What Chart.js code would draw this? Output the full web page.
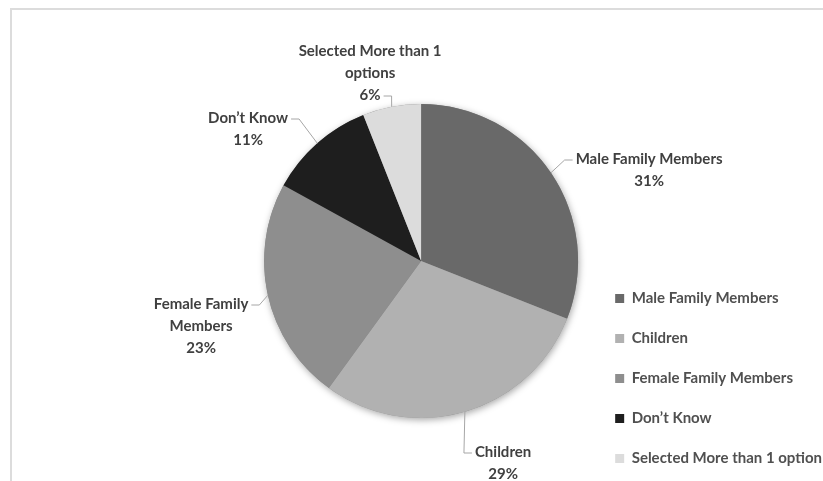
<!DOCTYPE html>
<html>
<head>
<meta charset="utf-8">
<script src="https://cdn.jsdelivr.net/npm/chart.js@4.4.1/dist/chart.umd.min.js"></script>
<style>
  html, body { margin: 0; padding: 0; background: #fff; }
  #wrap { position: relative; width: 823px; height: 481px; overflow: hidden; }
  #frame { position: absolute; left: 10px; top: 8px; right: -10px; bottom: -10px;
           border-top: 2px solid #dcdcdc; border-left: 2px solid #dcdcdc; }
  canvas { position: absolute; left: 0; top: 0; }
</style>
</head>
<body>
<div id="wrap">
  <div id="frame"></div>
  <canvas id="pie" width="823" height="481"></canvas>
</div>
<script>
// categories as in the legend
const categories = ["Male Family Members", "Children", "Female Family Members", "Don\u2019t Know", "Selected More than 1 option"];
// percentage shares
const shares = [31, 29, 23, 11, 6];
// text of the data labels (wrapped the way the picture shows it)
const labelLines = [
    ["Male Family Members"],
    ["Children"],
    ["Female Family", "Members"],
    ["Don\u2019t Know"],
    ["Selected More than 1", "options"]
];
const sliceColors = ["#696969", "#b1b1b1", "#8e8e8e", "#1e1e1e", "#dcdcdc"];

// where each label block sits, relative to the pie centre
const labelPlacement = [
    { dx: 228, dy: -102, side: "left", row: 0 },
    { dx: 82, dy: 191, side: "left", row: 0 },
    { dx: -220, dy: 43, side: "right", row: 0 },
    { dx: -173, dy: -143, side: "right", row: 0 },
    { dx: -51, dy: -210, side: "right", row: 2 }
];

const labelFont = "bold 15px Lato";
const lineGap = 22;

const pieShadow = {
    id: "pieShadow",
    beforeDatasetsDraw(chart) {
        const arc = chart.getDatasetMeta(0).data[0];
        if (!arc) return;
        const ctx = chart.ctx;
        ctx.save();
        ctx.shadowColor = "rgba(0,0,0,0.35)";
        ctx.shadowBlur = 7;
        ctx.shadowOffsetX = 1;
        ctx.shadowOffsetY = 2;
        ctx.fillStyle = "#888";
        ctx.beginPath();
        ctx.arc(arc.x, arc.y, arc.outerRadius, 0, Math.PI * 2);
        ctx.fill();
        ctx.restore();
    }
};

const outsideLabels = {
    id: "outsideLabels",
    afterDatasetsDraw(chart) {
        const ctx = chart.ctx;
        const meta = chart.getDatasetMeta(0);
        ctx.save();
        ctx.font = labelFont;
        ctx.textAlign = "center";
        ctx.textBaseline = "middle";
        meta.data.forEach(function (arc, i) {
            const p = labelPlacement[i];
            const lines = labelLines[i].concat([shares[i] + "%"]);
            const cx = arc.x + p.dx;
            const y0 = arc.y + p.dy;

            // leader line
            const mid = (arc.startAngle + arc.endAngle) / 2;
            const ax = arc.x + Math.cos(mid) * arc.outerRadius;
            const ay = arc.y + Math.sin(mid) * arc.outerRadius;
            const w = ctx.measureText(lines[p.row]).width;
            const ly = y0 + p.row * lineGap + 1;
            const edge = p.side === "left" ? cx - w / 2 - 3 : cx + w / 2 + 3;
            const elbow = p.side === "left" ? edge - 8 : edge + 8;
            ctx.strokeStyle = "#a6a6a6";
            ctx.lineWidth = 1;
            ctx.beginPath();
            ctx.moveTo(edge, ly);
            ctx.lineTo(elbow, ly);
            ctx.lineTo(ax, ay);
            ctx.stroke();

            ctx.fillStyle = "#404040";
            lines.forEach(function (t, k) {
                ctx.fillText(t, cx, y0 + k * lineGap);
            });
        });
        ctx.restore();
    }
};

new Chart(document.getElementById("pie"), {
    type: "pie",
    data: {
        labels: categories,
        datasets: [{
            data: shares,
            backgroundColor: sliceColors,
            borderWidth: 0,
            radius: 157
        }]
    },
    options: {
        responsive: false,
        animation: false,
        layout: { padding: { left: 252, top: 41, bottom: -10, right: -9 } },
        plugins: {
            tooltip: { enabled: false },
            legend: {
                position: "right",
                align: "end",
                labels: {
                    boxWidth: 9,
                    boxHeight: 9,
                    padding: 25,
                    color: "#505050",
                    font: { family: "Lato", size: 15, weight: "bold" }
                }
            }
        }
    },
    plugins: [pieShadow, outsideLabels]
});
</script>
</body>
</html>
